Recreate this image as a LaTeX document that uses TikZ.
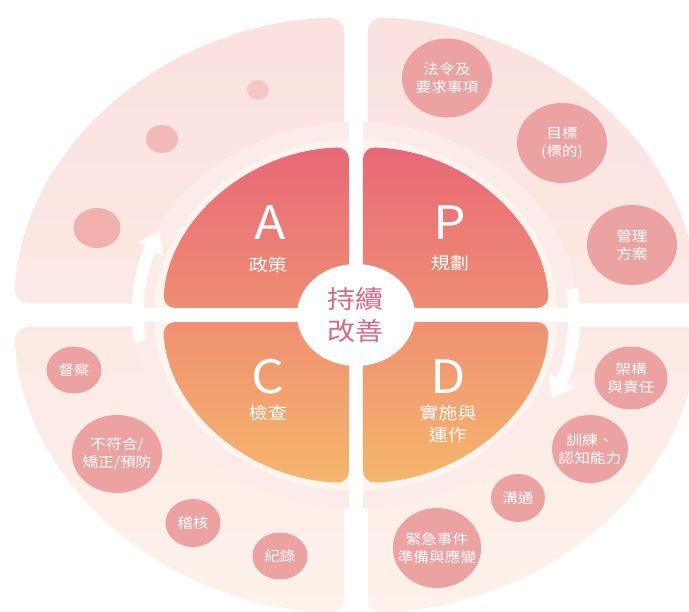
\documentclass[tikz,border=0pt]{standalone}
\usepackage{fontspec}
\setmainfont{Noto Sans CJK TC}[FakeStretch=1.12]
\usetikzlibrary{arrows.meta,shapes.geometric}

\definecolor{outtop}{RGB}{251,225,223}
\definecolor{outbot}{RGB}{253,241,234}
\definecolor{ringc}{RGB}{252,236,233}
\definecolor{glowc}{RGB}{254,244,238}
\definecolor{pdcatop}{RGB}{232,104,120}
\definecolor{pdcamid}{RGB}{240,140,118}
\definecolor{pdcabot}{RGB}{246,182,108}
\definecolor{bubblec}{RGB}{236,162,160}
\definecolor{coretext}{RGB}{214,106,134}

\tikzset{
  bubble/.style={ellipse, fill=bubblec, text=white, inner sep=-8pt, align=center,
    font=\fontsize{14}{18}\selectfont},
  dotc/.style={ellipse, inner sep=0pt},
  letter/.style={text=white, inner sep=0pt, font=\fontsize{46}{46}\selectfont},
  phase/.style={text=white, inner sep=0pt, align=center, font=\fontsize{17}{22}\selectfont},
  flow/.style={white, line width=12pt, -{Triangle[width=28pt,length=20pt]}},
}

\begin{document}
\begin{tikzpicture}[x=1pt,y=1pt]
  \useasboundingbox (-356,-297) rectangle (333,315);

  % outer band, four sectors
  \begin{scope}
    \clip[rounded corners=14pt]
      (12,12) -- (12,297.8) arc[start angle=88, end angle=2.31, x radius=342pt, y radius=298pt] -- cycle
      (-12,12) -- (-341.7,12) arc[start angle=177.69, end angle=92, x radius=342pt, y radius=298pt] -- cycle
      (-12,-12) -- (-12,-297.8) arc[start angle=268, end angle=182.31, x radius=342pt, y radius=298pt] -- cycle
      (12,-12) -- (341.7,-12) arc[start angle=-2.31, end angle=-88, x radius=342pt, y radius=298pt] -- cycle;
    \shade[top color=outtop, bottom color=outbot] (-350,-300) rectangle (350,300);
  \end{scope}

  % light ring round the PDCA
  \fill[ringc] (0,0) ellipse[x radius=222pt, y radius=193pt];
  \fill[glowc] (0,0) ellipse[x radius=202pt, y radius=176pt];
  \fill[white] (-224,-7) rectangle (224,7);
  \fill[white] (-7,-195) rectangle (7,195);

  % PDCA quadrants
  \begin{scope}
    \clip[rounded corners=12pt]
      (7,7) -- (7,167.9) arc[start angle=87.92, end angle=2.39, x radius=193pt, y radius=168pt] -- cycle
      (-7,7) -- (-192.8,7) arc[start angle=177.61, end angle=92.08, x radius=193pt, y radius=168pt] -- cycle
      (-7,-7) -- (-7,-167.9) arc[start angle=267.92, end angle=182.39, x radius=193pt, y radius=168pt] -- cycle
      (7,-7) -- (192.8,-7) arc[start angle=-2.39, end angle=-87.92, x radius=193pt, y radius=168pt] -- cycle;
    \shade[top color=pdcatop, middle color=pdcamid, bottom color=pdcabot] (-195,-170) rectangle (195,170);
  \end{scope}

  \node[ellipse, fill=white, minimum width=118pt, minimum height=102pt, inner sep=0pt,
    text=coretext, align=center, font=\fontsize{25}{32}\selectfont] (core) at (0,0) {持續\\改善};

  % cycle arrows
  \coordinate (arrR) at ({218*cos(8)},{190*sin(8)});
  \coordinate (arrL) at ({218*cos(188)},{190*sin(188)});
  \draw[flow] (arrR) arc[start angle=8, end angle=-26, x radius=218pt, y radius=190pt];
  \draw[flow] (arrL) arc[start angle=188, end angle=154, x radius=218pt, y radius=190pt];

  % quadrant titles
  \node[letter] (letA) at (-86,92) {A};
  \node[phase] (txtA) at (-88,50) {政策};
  \node[letter] (letP) at (94,92) {P};
  \node[phase] (txtP) at (94,52) {規劃};
  \node[letter] (letC) at (-88,-62) {C};
  \node[phase] (txtC) at (-88,-98) {檢查};
  \node[letter] (letD) at (92,-62) {D};
  \node[phase] (txtD) at (92,-109) {實施與\\運作};

  % P
  \node[bubble, minimum width=90pt, minimum height=79pt] (law) at (91,237) {法令及\\要求事項};
  \node[bubble, minimum width=90pt, minimum height=80pt] (goal) at (206,172) {目標\\(標的)};
  \node[bubble, minimum width=90pt, minimum height=80pt] (prog) at (276,70) {管理\\方案};
  % D
  \node[bubble, minimum width=73pt, minimum height=63pt] (org) at (275,-63) {架構\\與責任};
  \node[bubble, minimum width=76pt, minimum height=68pt] (train) at (234,-134) {訓練、\\認知能力};
  \node[bubble, minimum width=54pt, minimum height=48pt] (comm) at (162,-183) {溝通};
  \node[bubble, minimum width=85pt, minimum height=80pt] (emer) at (81,-233) {緊急事件\\準備與應變};
  % C
  \node[bubble, minimum width=55pt, minimum height=47pt] (insp) at (-282,-55) {督察};
  \node[bubble, minimum width=90pt, minimum height=78pt] (ncr) at (-239,-139) {不符合/\\矯正/預防};
  \node[bubble, minimum width=55pt, minimum height=48pt] (audit) at (-163,-208) {稽核};
  \node[bubble, minimum width=55pt, minimum height=47pt] (rec) at (-76,-241) {紀錄};
  % A
  \node[dotc, fill=bubblec!85!white, minimum width=47pt, minimum height=40pt] (dotB) at (-259,87) {};
  \node[dotc, fill=bubblec!75!white, minimum width=32pt, minimum height=28pt] (dotM) at (-194,176) {};
  \node[dotc, fill=bubblec!60!white, minimum width=22pt, minimum height=20pt] (dotS) at (-98,225) {};
\end{tikzpicture}
\end{document}
